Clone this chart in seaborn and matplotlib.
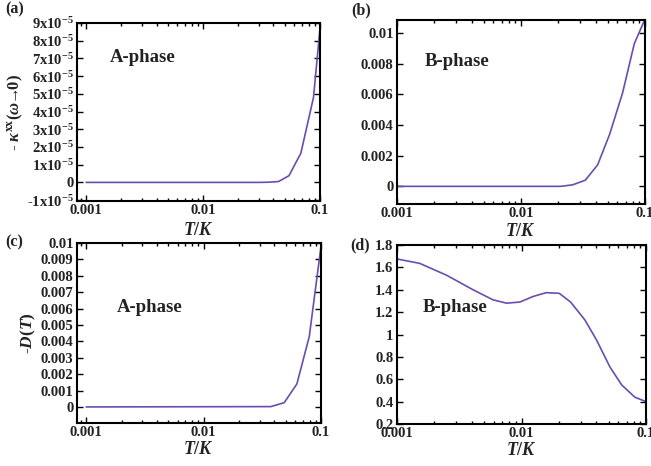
import numpy as np
import pandas as pd
import matplotlib
matplotlib.use("Agg")
import matplotlib.pyplot as plt
import matplotlib.ticker as mticker
import seaborn as sns

# ---- data ----
T_a = [0.001, 0.01, 0.03, 0.036, 0.0443, 0.0543, 0.0686, 0.088, 0.1]
kappa_a = [0, 0, 0, 0.01e-5, 0.05e-5, 0.38e-5, 1.65e-5, 4.8e-5, 8.7e-5]

T_b = [0.001, 0.021, 0.0261, 0.033, 0.0415, 0.0519, 0.066, 0.082, 0.1]
kappa_b = [0, 0, 0.0001, 0.0004, 0.0014, 0.0034, 0.0061, 0.0093, 0.0109]

T_c = [0.001, 0.0374, 0.0486, 0.0623, 0.0795, 0.1]
D_c = [0, 0.00002, 0.00026, 0.0014, 0.0043, 0.0098]

T_d = [0.001, 0.00152, 0.0025, 0.00408, 0.0059, 0.00757, 0.0097, 0.0124,
       0.0158, 0.0201, 0.0248, 0.0323, 0.0401, 0.0513, 0.0637, 0.0813, 0.1]
D_d = [1.675, 1.636, 1.53, 1.40, 1.31, 1.28, 1.29, 1.34,
       1.374, 1.368, 1.29, 1.13, 0.95, 0.71, 0.55, 0.44, 0.40]

xticks = [0.001, 0.01, 0.1]
xtick_labels = ["0.001", "0.01", "0.1"]
yticks_a = [-1e-5, 0, 1e-5, 2e-5, 3e-5, 4e-5, 5e-5, 6e-5, 7e-5, 8e-5, 9e-5]
ytick_labels_a = [r"-1x10$^{-5}$", "0"] + [r"%dx10$^{-5}$" % i for i in range(1, 10)]
yticks_b = [0, 0.002, 0.004, 0.006, 0.008, 0.01]
ytick_labels_b = ["0", "0.002", "0.004", "0.006", "0.008", "0.01"]
yticks_c = [0, 0.001, 0.002, 0.003, 0.004, 0.005, 0.006, 0.007, 0.008, 0.009, 0.01]
ytick_labels_c = ["0", "0.001", "0.002", "0.003", "0.004", "0.005", "0.006",
                  "0.007", "0.008", "0.009", "0.01"]
yticks_d = [0.2, 0.4, 0.6, 0.8, 1.0, 1.2, 1.4, 1.6, 1.8]
ytick_labels_d = ["0.2", "0.4", "0.6", "0.8", "1", "1.2", "1.4", "1.6", "1.8"]

sns.set_theme(style="ticks")
plt.rcParams['font.family'] = ['Liberation Serif', 'DejaVu Serif']
plt.rcParams['font.weight'] = 'bold'
plt.rcParams['mathtext.fontset'] = 'custom'
plt.rcParams['mathtext.rm'] = 'Liberation Serif:bold'
plt.rcParams['mathtext.it'] = 'Liberation Serif:bold:italic'
plt.rcParams['mathtext.bf'] = 'Liberation Serif:bold'

LINE = '#6A4DAE'
TXT = '#222222'

fig = plt.figure(figsize=(6.51, 4.66), dpi=100)
W, H = 651, 466

def add_ax(l, r, t, b):
    return fig.add_axes([l / W, 1 - b / H, (r - l) / W, (b - t) / H])

ax_a = add_ax(77, 320, 23, 201)
ax_b = add_ax(397, 645, 20, 204)
ax_c = add_ax(77, 321, 243, 423)
ax_d = add_ax(397, 646, 245, 424)

panels = [
    (ax_a, T_a, kappa_a, (10 ** -3.078, 0.1), (-1.05e-5, 9e-5), yticks_a, ytick_labels_a),
    (ax_b, T_b, kappa_b, (0.001, 0.1), (-0.00115, 0.01084), yticks_b, ytick_labels_b),
    (ax_c, T_c, D_c, (10 ** -3.078, 0.1), (-0.00098, 0.01), yticks_c, ytick_labels_c),
    (ax_d, T_d, D_d, (0.001, 0.1), (0.2, 1.8), yticks_d, ytick_labels_d),
]

for ax, xs, ys, xl, yl, yt, ytl in panels:
    df = pd.DataFrame({"T": xs, "v": ys})
    sns.lineplot(data=df, x="T", y="v", ax=ax, color=LINE, linewidth=1.2)
    ax.set_xscale("log")
    ax.set_xlim(*xl)
    ax.set_ylim(*yl)
    ax.set_xticks(xticks)
    ax.set_xticklabels(xtick_labels)
    ax.xaxis.set_minor_locator(mticker.LogLocator(base=10, subs=np.arange(2, 10)))
    ax.xaxis.set_minor_formatter(mticker.NullFormatter())
    ax.set_yticks(yt)
    ax.set_yticklabels(ytl)
    ax.tick_params(which="both", direction="in", top=True, right=True,
                   colors='black', labelcolor=TXT, width=1.0)
    ax.tick_params(which="major", length=4.5, pad=2.5, labelsize=10.5)
    ax.tick_params(which="minor", length=2.5)
    for s in ax.spines.values():
        s.set_linewidth(1.5)
        s.set_color('black')
    ax.set_xlabel("")
    ax.set_ylabel("")

# axis labels
ax_a.set_xlabel(r"$T/K$", fontsize=13, color=TXT, labelpad=3)
ax_b.set_xlabel(r"$T/K$", fontsize=13, color=TXT, labelpad=2)
ax_c.set_xlabel(r"$T/K$", fontsize=13, color=TXT, labelpad=1)
ax_d.set_xlabel(r"$T/K$", fontsize=13, color=TXT, labelpad=1)

ax_a.set_ylabel(r"- $\kappa^{\mathrm{xx}}(\omega\!\!\rightarrow\!\!0)$", fontsize=12, color=TXT, labelpad=1)
ax_c.set_ylabel(r"-$D(T)$", fontsize=12.5, color=TXT, labelpad=2)

# phase annotations
fig.text(143 / W, 1 - 57 / H, "A-phase", fontsize=13.5, fontweight='bold', color=TXT, ha='center', va='center')
fig.text(457 / W, 1 - 62 / H, "B-phase", fontsize=13.5, fontweight='bold', color=TXT, ha='center', va='center')
fig.text(150 / W, 1 - 308 / H, "A-phase", fontsize=13.5, fontweight='bold', color=TXT, ha='center', va='center')
fig.text(455 / W, 1 - 307 / H, "B-phase", fontsize=13.5, fontweight='bold', color=TXT, ha='center', va='center')

# panel letters
fig.text(5 / W, 1 - 9 / H, "(a)", fontsize=11.5, fontweight='bold', color=TXT, ha='left', va='center')
fig.text(351 / W, 1 - 10 / H, "(b)", fontsize=11.5, fontweight='bold', color=TXT, ha='left', va='center')
fig.text(5 / W, 1 - 242 / H, "(c)", fontsize=11.5, fontweight='bold', color=TXT, ha='left', va='center')
fig.text(350 / W, 1 - 245 / H, "(d)", fontsize=11.5, fontweight='bold', color=TXT, ha='left', va='center')

fig.savefig("out.png", dpi=100)
